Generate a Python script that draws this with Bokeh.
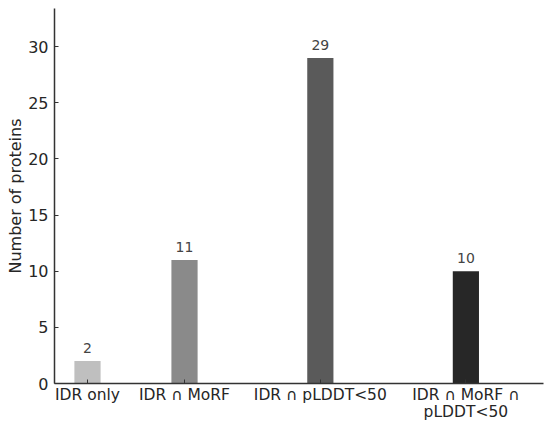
from bokeh.plotting import figure
from bokeh.models import Range1d, FixedTicker, ColumnDataSource, LabelSet, LinearAxis
from bokeh.core.properties import value
from bokeh.embed import file_html
from bokeh.resources import INLINE

# ---- data ----
categories = ["IDR only", "IDR ∩ MoRF", "IDR ∩ pLDDT<50", "IDR ∩ MoRF ∩\npLDDT<50"]
counts = [2, 11, 29, 10]
bar_colors = ["#bfbfbf", "#8a8a8a", "#5a5a5a", "#272727"]
# category placement along the x axis (as in the original figure)
x_pos = [0, 10, 24, 39]
y_ticks = [0, 5, 10, 15, 20, 25, 30]

FONT = "DejaVu Sans"
TXT = "#262626"

first_lines = [c.split("\n")[0] for c in categories]
second_lines = [c.split("\n")[1] if "\n" in c else "" for c in categories]

src = ColumnDataSource(dict(
    x=x_pos,
    count=counts,
    color=bar_colors,
    label=[str(c) for c in counts],
))

p = figure(
    width=548, height=423,
    x_range=Range1d(-3.4, 47.0),
    y_range=Range1d(0, 33.4),
    output_backend="svg",
    toolbar_location=None,
    min_border_left=54, min_border_top=8, min_border_right=5, min_border_bottom=40,
)

p.vbar(x="x", top="count", width=2.7, fill_color="color", line_color=None, source=src)

labels = LabelSet(
    x="x", y="count", text="label", source=src,
    y_offset=8, text_align="center", text_baseline="bottom",
    text_font=value(FONT), text_font_size="14px", text_color="#444444",
)
p.add_layout(labels)

p.outline_line_color = None
p.xgrid.visible = False
p.ygrid.visible = False
p.background_fill_color = "white"
p.border_fill_color = "white"

# x axis (first line of category labels)
p.xaxis.ticker = FixedTicker(ticks=x_pos)
p.xaxis.major_label_overrides = {x: c for x, c in zip(x_pos, first_lines)}
p.xaxis.major_tick_in = 4
p.xaxis.major_tick_out = 0
p.xaxis.minor_tick_line_color = None
p.xaxis.major_label_standoff = 2
p.xaxis.major_label_text_font = FONT
p.xaxis.major_label_text_font_size = "15.5px"
p.xaxis.major_label_text_color = TXT
p.xaxis.axis_line_color = "#333333"
p.xaxis.axis_line_width = 1.5
p.xaxis.major_tick_line_color = "#333333"

# second line of multi-line category labels
x2 = LinearAxis(
    ticker=FixedTicker(ticks=x_pos),
    major_label_overrides={x: c for x, c in zip(x_pos, second_lines)},
    axis_line_color=None, major_tick_line_color=None, minor_tick_line_color=None,
    major_tick_in=0, major_tick_out=0, major_label_standoff=-4,
    major_label_text_font=FONT, major_label_text_font_size="15.5px",
    major_label_text_color=TXT,
)
p.add_layout(x2, "below")

# y axis
p.yaxis.ticker = FixedTicker(ticks=y_ticks)
p.yaxis.major_tick_in = 4
p.yaxis.major_tick_out = 0
p.yaxis.minor_tick_line_color = None
p.yaxis.major_label_standoff = 6
p.yaxis.major_label_text_font = FONT
p.yaxis.major_label_text_font_size = "16px"
p.yaxis.major_label_text_color = TXT
p.yaxis.axis_line_color = "#333333"
p.yaxis.axis_line_width = 1.5
p.yaxis.major_tick_line_color = "#333333"
p.yaxis.axis_label = "Number of proteins"
p.yaxis.axis_label_text_font = FONT
p.yaxis.axis_label_text_font_size = "16px"
p.yaxis.axis_label_text_font_style = "normal"
p.yaxis.axis_label_text_color = TXT
p.yaxis.axis_label_standoff = 0

open("out.html", "w").write(file_html(p, INLINE))
